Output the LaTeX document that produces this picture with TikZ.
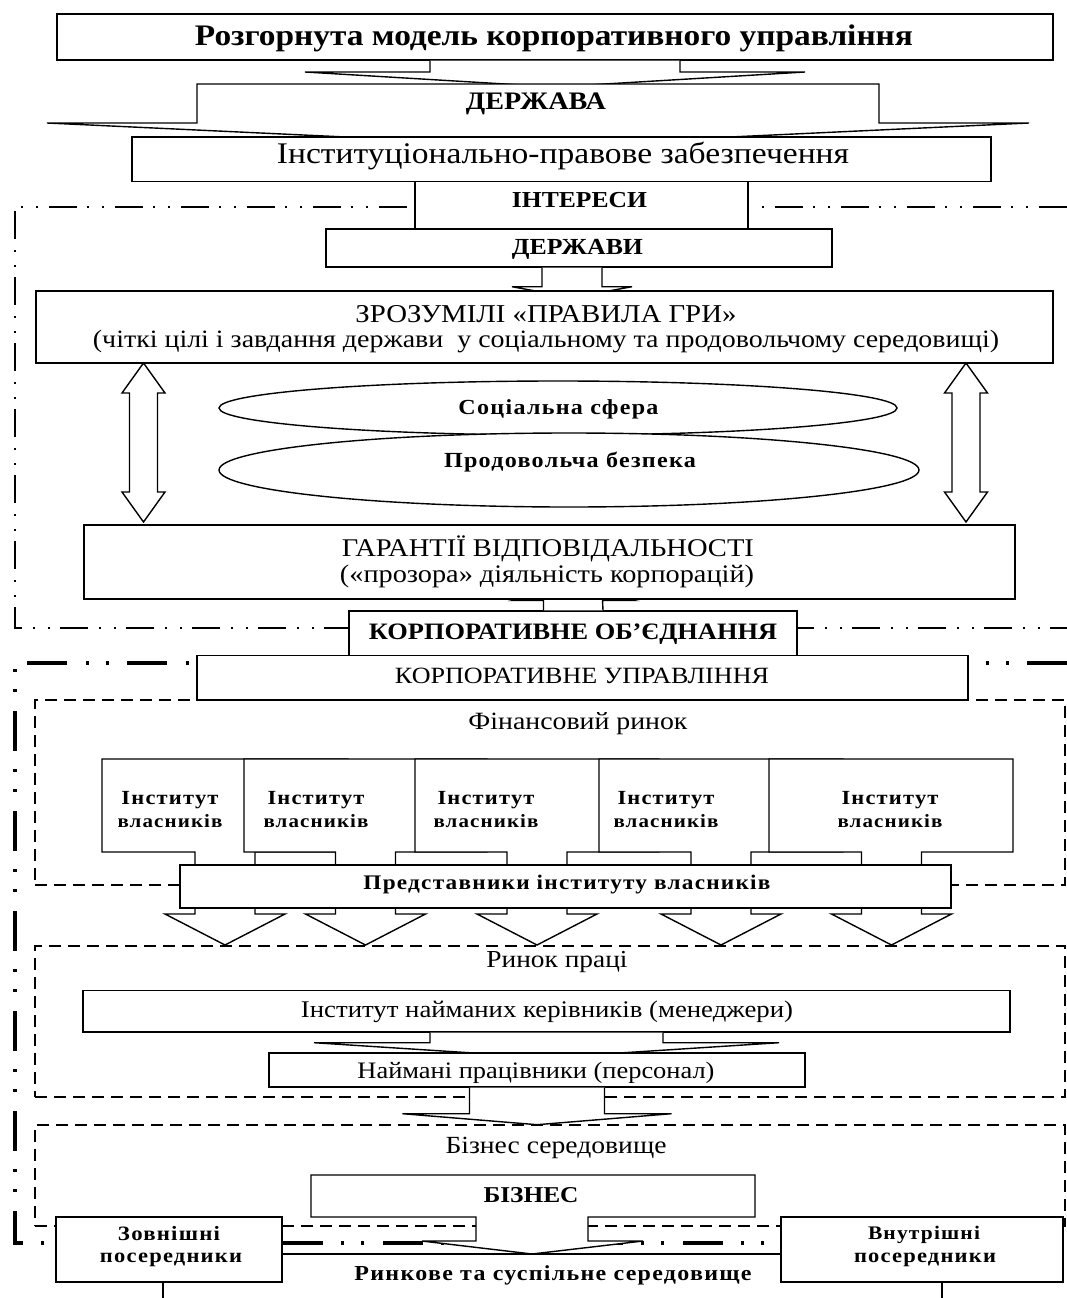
\documentclass[tikz,border=0pt]{standalone}
\usepackage{fontspec}
\usepackage{graphicx}
\setmainfont[FakeStretch=1.12]{Liberation Serif}
\newfontfamily\wideb[FakeStretch=1.12,LetterSpace=6]{Liberation Serif}
\usetikzlibrary{calc,shapes.geometric}
\newcommand{\fitw}[2]{\resizebox{#1pt}{!}{#2}}
\begin{document}
\begin{tikzpicture}[x=1pt,y=-1pt,
  box/.style={draw,fill=white,line width=1.4pt,inner sep=0pt,outer sep=0pt,anchor=north west},
  dbox/.style={draw,line width=1.4pt,dash pattern=on 12pt off 7pt,inner sep=0pt,outer sep=0pt,anchor=north west},
  arr/.style={draw,fill=white,line width=1.4pt},
  frameA/.style={line width=2pt,dash pattern=on 28pt off 11pt on 2pt off 13pt on 2pt off 10pt},
  frameB/.style={line width=3.5pt,dash pattern=on 40pt off 18pt on 3pt off 17pt on 3pt off 19pt},
  txt/.style={inner sep=0pt,outer sep=0pt},
  two/.style={txt,align=center,font=\fontsize{16}{23}\selectfont},
  ell/.style={draw,fill=white,ellipse,line width=1.4pt,inner sep=0pt,outer sep=0pt}]
\useasboundingbox (0,0) rectangle (1067,1298);

% frames
\draw[frameA] (1067,207) -- (15,207) -- (15,628) -- (1067,628);
\draw[frameB] (1067,663) -- (15,663) -- (15,1243) -- (1067,1243);

% dashed areas
\node[dbox,minimum width=1030pt,minimum height=185pt] (finbox) at (35,700) {};
\node[dbox,minimum width=1030pt,minimum height=151pt] (labbox) at (35,946) {};
\node[dbox,minimum width=1030pt,minimum height=101pt] (busbox) at (35,1125) {};

% top part
\node[box,minimum width=996pt,minimum height=46pt] (title) at (57,14) {};
\draw[arr] ($(title.south)+(-125,0.7)$) -- ($(title.south)+(-125,12)$) -- ++(-125,0) -- ($(title.south)+(0,27)$) -- ($(title.south)+(250,12)$) -- ++(-125,0) -- ($(title.south)+(125,0.7)$);
\draw[arr] (197,84) -- (879,84) -- (879,123) -- (1029,123) -- (538,146) -- (47,123) -- (197,123) -- cycle;
\node[box,minimum width=859pt,minimum height=44.5pt] (inst) at (132,137) {};
\node[box,minimum width=333pt,minimum height=47.5pt] (inter) at (415,181.5) {};
\node[box,minimum width=506pt,minimum height=38pt] (derzh2) at (326,229) {};
\coordinate (a2) at ($(derzh2.south)+(-7,0.7)$);
\draw[arr] ($(a2)+(-30,0)$) -- ($(a2)+(-30,19)$) -- ++(-30,0) -- ($(a2)+(0,30)$) -- ($(a2)+(60,19)$) -- ++(-30,0) -- ($(a2)+(30,0)$);
\node[box,minimum width=1017pt,minimum height=72pt] (rules) at (36,291) {};

% ellipses
\node[ell,minimum width=678pt,minimum height=54pt] (soc) at (558,408) {};
\node[ell,minimum width=700pt,minimum height=74pt] (food) at (569,470) {};

% lower blocks of the first frame
\node[box,minimum width=448pt,minimum height=44.5pt] (korp1) at (349,611) {};
\coordinate (a3) at ($(korp1.north)+(0,-0.7)$);
\draw[arr] ($(a3)+(-29.5,0)$) -- ($(a3)+(-29.5,-10)$) -- ++(-29.5,0) -- ($(a3)+(0,-23)$) -- ($(a3)+(60,-10)$) -- ++(-30.5,0) -- ($(a3)+(30,0)$);
\node[box,minimum width=931pt,minimum height=74pt] (guar) at (84,525) {};

% double arrows
\coordinate (dlt) at ($(rules.south west)+(107.5,0)$);
\coordinate (dlb) at ($(dlt |- guar.north)+(0,-3)$);
\coordinate (drt) at ($(rules.south east)+(-87,0)$);
\coordinate (drb) at ($(drt |- guar.north)+(0,-3)$);
\foreach \t/\b in {dlt/dlb,drt/drb}
  \draw[arr] (\t) -- ($(\t)+(21.5,30)$) -- ($(\t)+(14,30)$) -- ($(\b)+(14,-30)$) -- ($(\b)+(21.5,-30)$) -- (\b) -- ($(\b)+(-21.5,-30)$) -- ($(\b)+(-14,-30)$) -- ($(\t)+(-14,30)$) -- ($(\t)+(-21.5,30)$) -- cycle;

\node[box,minimum width=771pt,minimum height=44.5pt] (korp2) at (197,655.5) {};

% owners institutes (down arrow callouts)
\foreach \l/\r/\c in {102/348/225, 244/487/365.5, 415/659/537, 599/843/721, 769/1013/891.5}
  \draw[arr] (\l,759) -- (\r,759) -- (\r,852) -- (\c+30,852) -- (\c+30,914) -- (\c+60,914) -- (\c,945) -- (\c-60,914) -- (\c-30,914) -- (\c-30,852) -- (\l,852) -- cycle;
\node[box,minimum width=771pt,minimum height=43pt] (repr) at (180,865) {};

% labour market
\node[box,minimum width=927pt,minimum height=41.5pt] (mgr) at (83,990.5) {};
\coordinate (a4) at ($(mgr.south)+(0,0.7)$);
\draw[arr] ($(a4)+(-116.5,0)$) -- ($(a4)+(-116.5,10)$) -- ++(-116,0) -- ($(a4)+(0,25)$) -- ($(a4)+(232.5,10)$) -- ++(-116,0) -- ($(a4)+(116.5,0)$);
\node[box,minimum width=536pt,minimum height=34pt] (staff) at (269,1053) {};
\coordinate (a5) at ($(staff.south)+(0,0.7)$);
\draw[arr] ($(a5)+(-67.5,0)$) -- ($(a5)+(-67.5,26)$) -- ++(-67,0) -- ($(a5)+(0,37)$) -- ($(a5)+(134.5,26)$) -- ++(-67,0) -- ($(a5)+(67.5,0)$);

% business
\draw[arr] (311,1175) -- (755,1175) -- (755,1217) -- (588,1217) -- (588,1241) -- (643,1241) -- (532,1254) -- (422,1241) -- (476,1241) -- (476,1217) -- (311,1217) -- cycle;
\coordinate (btip) at (532,1254);
\node[box,minimum width=226pt,minimum height=65pt] (ext) at (56,1217) {};
\node[box,minimum width=282pt,minimum height=65pt] (intl) at (781,1217) {};
\draw[line width=1.4pt] (btip -| ext.east) -- (btip -| intl.west);
\coordinate (extend) at (163,1298);
\coordinate (intend) at (942,1298);
\draw[line width=1.4pt] (extend |- ext.south) -- (extend);
\draw[line width=1.4pt] (intend |- intl.south) -- (intend);

% texts
\node[txt] (titleT) at (554,38) {\fitw{718}{\bfseries Розгорнута модель корпоративного управління}};
\node[txt] (derzhava) at (536,104) {\fitw{140}{\bfseries ДЕРЖАВА}};
\node[txt] (instT) at (563,156) {\fitw{572}{Інституціонально-правове забезпечення}};
\node[txt] (interT) at (579.5,200.5) {\fitw{135}{\bfseries ІНТЕРЕСИ}};
\node[txt] (derzh2T) at (577.5,249) {\fitw{131}{\bfseries ДЕРЖАВИ}};
\node[txt] (rulesA) at (546,314) {\fitw{381}{ЗРОЗУМІЛІ «ПРАВИЛА ГРИ»}};
\node[txt] (rulesB) at (546,342) {\fitw{906}{(чіткі цілі і завдання держави\ \ у соціальному та продовольчому середовищі)}};
\node[txt] (socT) at (558.5,409) {\fitw{200}{\wideb\bfseries Соціальна сфера}};
\node[txt] (foodT) at (570,462) {\fitw{252}{\wideb\bfseries Продовольча безпека}};
\node[txt] (guarA) at (548,549) {\fitw{412}{ГАРАНТІЇ ВІДПОВІДАЛЬНОСТІ}};
\node[txt] (guarB) at (547,576) {\fitw{414}{(«прозора» діяльність корпорацій)}};
\node[txt] (korp1T) at (573,634) {\fitw{408}{\bfseries КОРПОРАТИВНЕ ОБ’ЄДНАННЯ}};
\node[txt] (korp2T) at (582,676) {\fitw{374}{КОРПОРАТИВНЕ УПРАВЛІННЯ}};
\node[txt] (finT) at (578,724) {\fitw{219}{Фінансовий ринок}};
\foreach \x [count=\i] in {170,316,486,666,890}
  \node[two] (own\i) at (\x,809.5) {\fitw{97}{\wideb\bfseries Інститут}\\\fitw{105}{\wideb\bfseries власників}};
\node[txt] (reprT) at (567,885) {\fitw{407}{\wideb\bfseries Представники інституту власників}};
\node[txt] (labT) at (557,962.5) {\fitw{141}{Ринок праці}};
\node[txt] (mgrT) at (547,1011.5) {\fitw{492}{Інститут найманих керівників (менеджери)}};
\node[txt] (staffT) at (536,1073) {\fitw{357}{Наймані працівники (персонал)}};
\node[txt] (busT) at (556,1148) {\fitw{221}{Бізнес середовище}};
\node[txt] (bizT) at (531,1195) {\fitw{95}{\bfseries БІЗНЕС}};
\node[txt] (extA) at (169,1234) {\fitw{102}{\wideb\bfseries Зовнішні}};
\node[txt] (extB) at (171,1260) {\fitw{142}{\wideb\bfseries посередники}};
\node[txt] (intA) at (924,1235) {\fitw{112}{\wideb\bfseries Внутрішні}};
\node[txt] (intB) at (925,1260) {\fitw{142}{\wideb\bfseries посередники}};
\node[txt] (marketT) at (553,1275) {\fitw{397}{\wideb\bfseries Ринкове та суспільне середовище}};
\end{tikzpicture}
\end{document}
